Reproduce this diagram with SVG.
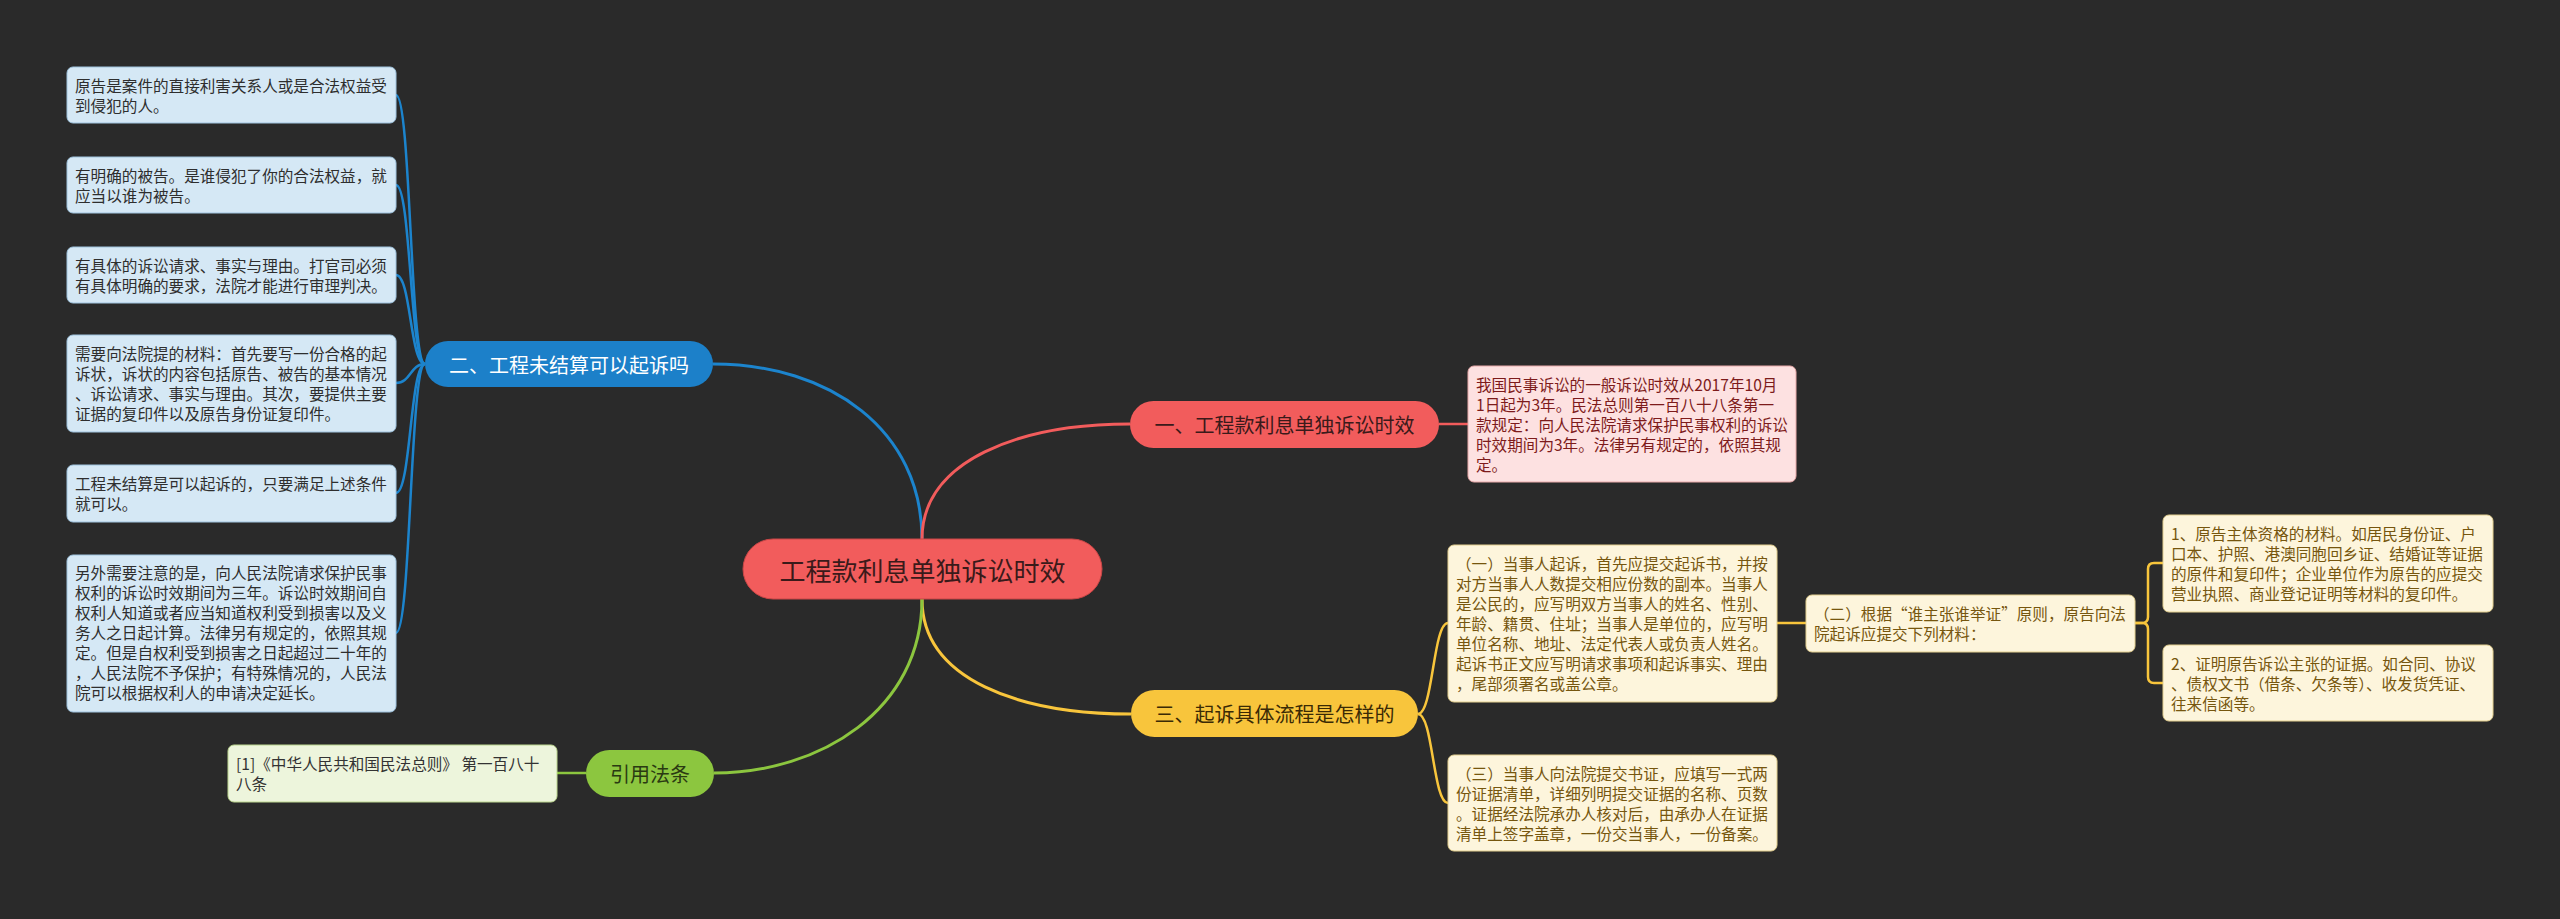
<svg xmlns="http://www.w3.org/2000/svg" width="2560" height="919" viewBox="0 0 2560 919">
<style>
text{font-family:"Noto Sans CJK SC","Noto Sans",sans-serif;}
.t{font-size:15.6px;}
.n{font-size:20px;text-anchor:middle;dominant-baseline:central;}
.c{font-size:26px;text-anchor:middle;dominant-baseline:central;}
.bb{fill:#d5e8f5;stroke:#9fc3de;stroke-width:1;}
.pb{fill:#fde1e1;stroke:#e8a9a9;stroke-width:1;}
.yb{fill:#fdf5dc;stroke:#e3cf8f;stroke-width:1;}
.gb{fill:#edf5dc;stroke:#bcd68f;stroke-width:1;}
.bt{fill:#2e2e2e;}
.pt{fill:#7d1b1b;}
.yt{fill:#76560e;}
.gt{fill:#333333;}
.lb{stroke:#1c84cd;}
.lr{stroke:#f25c5c;}
.ly{stroke:#f8c53c;}
.lg{stroke:#8cc63f;}
#connectors path{fill:none;stroke-width:2.5;}
#connectors .m{stroke-width:3;}
</style>
<rect x="0" y="0" width="2560" height="919" fill="#2a2a2a"/>
<g id="connectors">
<path class="lb m" d="M922,539 C922,430 830,364 713,364"/>
<path class="lr m" d="M922,539 C922,460 1020,424 1130,424"/>
<path class="ly m" d="M922,599 C922,680 1020,714 1131,714"/>
<path class="lg m" d="M922,599 C922,710 820,773 714,773"/>
<path class="lb" d="M396,95 C411,95 410,364 425,364"/>
<path class="lb" d="M396,185 C411,185 410,364 425,364"/>
<path class="lb" d="M396,275 C411,275 410,364 425,364"/>
<path class="lb" d="M396,383 C411,383 410,364 425,364"/>
<path class="lb" d="M396,493 C411,493 410,364 425,364"/>
<path class="lb" d="M396,633 C411,633 410,364 425,364"/>
<path class="lr" d="M1439,424 L1468,424"/>
<path class="lg" d="M557,773 L586,773"/>
<path class="ly" d="M1418,714 C1433,714 1433,623 1448,623"/>
<path class="ly" d="M1418,714 C1433,714 1433,803 1448,803"/>
<path class="ly" d="M1777,623 L1806,623"/>
<path class="ly" d="M2135,623 H2142 Q2148,623 2148,617 V569 Q2148,563 2154,563 H2163"/>
<path class="ly" d="M2135,623 H2142 Q2148,623 2148,629 V677 Q2148,683 2154,683 H2163"/>
</g>
<g id="center">
<rect x="743" y="539" width="359" height="60" rx="30" fill="#f25c5c" stroke="#c94646" stroke-width="1"/>
<text class="c" x="922.5" y="569" fill="#3a1a1a">工程款利息单独诉讼时效</text>
</g>
<g id="n2">
<rect x="425" y="341" width="288" height="46" rx="23" fill="#1c80c9"/>
<text class="n" x="569" y="364" fill="#ffffff">二、工程未结算可以起诉吗</text>
</g>
<g id="n1">
<rect x="1130" y="401" width="309" height="47" rx="23.5" fill="#f25c5c"/>
<text class="n" x="1284.5" y="424.5" fill="#3a1a1a">一、工程款利息单独诉讼时效</text>
</g>
<g id="n3">
<rect x="1131" y="690" width="287" height="47" rx="23.5" fill="#f8c53c"/>
<text class="n" x="1274.5" y="713.5" fill="#3a2a05">三、起诉具体流程是怎样的</text>
</g>
<g id="n4">
<rect x="586" y="750" width="128" height="47" rx="23.5" fill="#8cc63f"/>
<text class="n" x="650" y="773.5" fill="#2a3a12">引用法条</text>
</g>
<g id="b1">
<rect class="bb" x="67" y="67" width="329" height="56" rx="6"/>
<text class="t bt" x="75" y="92"><tspan x="75" y="92">原告是案件的直接利害关系人或是合法权益受</tspan><tspan x="75" y="112">到侵犯的人。</tspan></text>
</g>
<g id="b2">
<rect class="bb" x="67" y="157" width="329" height="56" rx="6"/>
<text class="t bt"><tspan x="75" y="182">有明确的被告。是谁侵犯了你的合法权益，就</tspan><tspan x="75" y="202">应当以谁为被告。</tspan></text>
</g>
<g id="b3">
<rect class="bb" x="67" y="247" width="329" height="56" rx="6"/>
<text class="t bt"><tspan x="75" y="272">有具体的诉讼请求、事实与理由。打官司必须</tspan><tspan x="75" y="292">有具体明确的要求，法院才能进行审理判决。</tspan></text>
</g>
<g id="b4">
<rect class="bb" x="67" y="335" width="329" height="97" rx="6"/>
<text class="t bt"><tspan x="75" y="360">需要向法院提的材料：首先要写一份合格的起</tspan><tspan x="75" y="380">诉状，诉状的内容包括原告、被告的基本情况</tspan><tspan x="75" y="400">、诉讼请求、事实与理由。其次，要提供主要</tspan><tspan x="75" y="420">证据的复印件以及原告身份证复印件。</tspan></text>
</g>
<g id="b5">
<rect class="bb" x="67" y="465" width="329" height="57" rx="6"/>
<text class="t bt"><tspan x="75" y="490">工程未结算是可以起诉的，只要满足上述条件</tspan><tspan x="75" y="510">就可以。</tspan></text>
</g>
<g id="b6">
<rect class="bb" x="67" y="555" width="329" height="157" rx="6"/>
<text class="t bt"><tspan x="75" y="579">另外需要注意的是，向人民法院请求保护民事</tspan><tspan x="75" y="599">权利的诉讼时效期间为三年。诉讼时效期间自</tspan><tspan x="75" y="619">权利人知道或者应当知道权利受到损害以及义</tspan><tspan x="75" y="639">务人之日起计算。法律另有规定的，依照其规</tspan><tspan x="75" y="659">定。但是自权利受到损害之日起超过二十年的</tspan><tspan x="75" y="679">，人民法院不予保护；有特殊情况的，人民法</tspan><tspan x="75" y="699">院可以根据权利人的申请决定延长。</tspan></text>
</g>
<g id="p1">
<rect class="pb" x="1468" y="366" width="328" height="116" rx="6"/>
<text class="t pt"><tspan x="1476" y="391">我国民事诉讼的一般诉讼时效从2017年10月</tspan><tspan x="1476" y="411">1日起为3年。民法总则第一百八十八条第一</tspan><tspan x="1476" y="431">款规定：向人民法院请求保护民事权利的诉讼</tspan><tspan x="1476" y="451">时效期间为3年。法律另有规定的，依照其规</tspan><tspan x="1476" y="471">定。</tspan></text>
</g>
<g id="y1">
<rect class="yb" x="1448" y="545" width="329" height="157" rx="6"/>
<text class="t yt"><tspan x="1456" y="570">（一）当事人起诉，首先应提交起诉书，并按</tspan><tspan x="1456" y="590">对方当事人人数提交相应份数的副本。当事人</tspan><tspan x="1456" y="610">是公民的，应写明双方当事人的姓名、性别、</tspan><tspan x="1456" y="630">年龄、籍贯、住址；当事人是单位的，应写明</tspan><tspan x="1456" y="650">单位名称、地址、法定代表人或负责人姓名。</tspan><tspan x="1456" y="670">起诉书正文应写明请求事项和起诉事实、理由</tspan><tspan x="1456" y="690">，尾部须署名或盖公章。</tspan></text>
</g>
<g id="y3">
<rect class="yb" x="1448" y="755" width="329" height="96" rx="6"/>
<text class="t yt"><tspan x="1456" y="780">（三）当事人向法院提交书证，应填写一式两</tspan><tspan x="1456" y="800">份证据清单，详细列明提交证据的名称、页数</tspan><tspan x="1456" y="820">。证据经法院承办人核对后，由承办人在证据</tspan><tspan x="1456" y="840">清单上签字盖章，一份交当事人，一份备案。</tspan></text>
</g>
<g id="y2">
<rect class="yb" x="1806" y="595" width="329" height="57" rx="6"/>
<text class="t yt"><tspan x="1814" y="620">（二）根据“谁主张谁举证”原则，原告向法</tspan><tspan x="1814" y="640">院起诉应提交下列材料：</tspan></text>
</g>
<g id="y21">
<rect class="yb" x="2163" y="515" width="330" height="97" rx="6"/>
<text class="t yt"><tspan x="2171" y="540">1、原告主体资格的材料。如居民身份证、户</tspan><tspan x="2171" y="560">口本、护照、港澳同胞回乡证、结婚证等证据</tspan><tspan x="2171" y="580">的原件和复印件；企业单位作为原告的应提交</tspan><tspan x="2171" y="600">营业执照、商业登记证明等材料的复印件。</tspan></text>
</g>
<g id="y22">
<rect class="yb" x="2163" y="645" width="330" height="76" rx="6"/>
<text class="t yt"><tspan x="2171" y="670">2、证明原告诉讼主张的证据。如合同、协议</tspan><tspan x="2171" y="690">、债权文书（借条、欠条等）、收发货凭证、</tspan><tspan x="2171" y="710">往来信函等。</tspan></text>
</g>
<g id="g1">
<rect class="gb" x="228" y="745" width="329" height="57" rx="6"/>
<text class="t gt"><tspan x="236" y="770">[1]《中华人民共和国民法总则》 第一百八十</tspan><tspan x="236" y="790">八条</tspan></text>
</g>
</svg>
